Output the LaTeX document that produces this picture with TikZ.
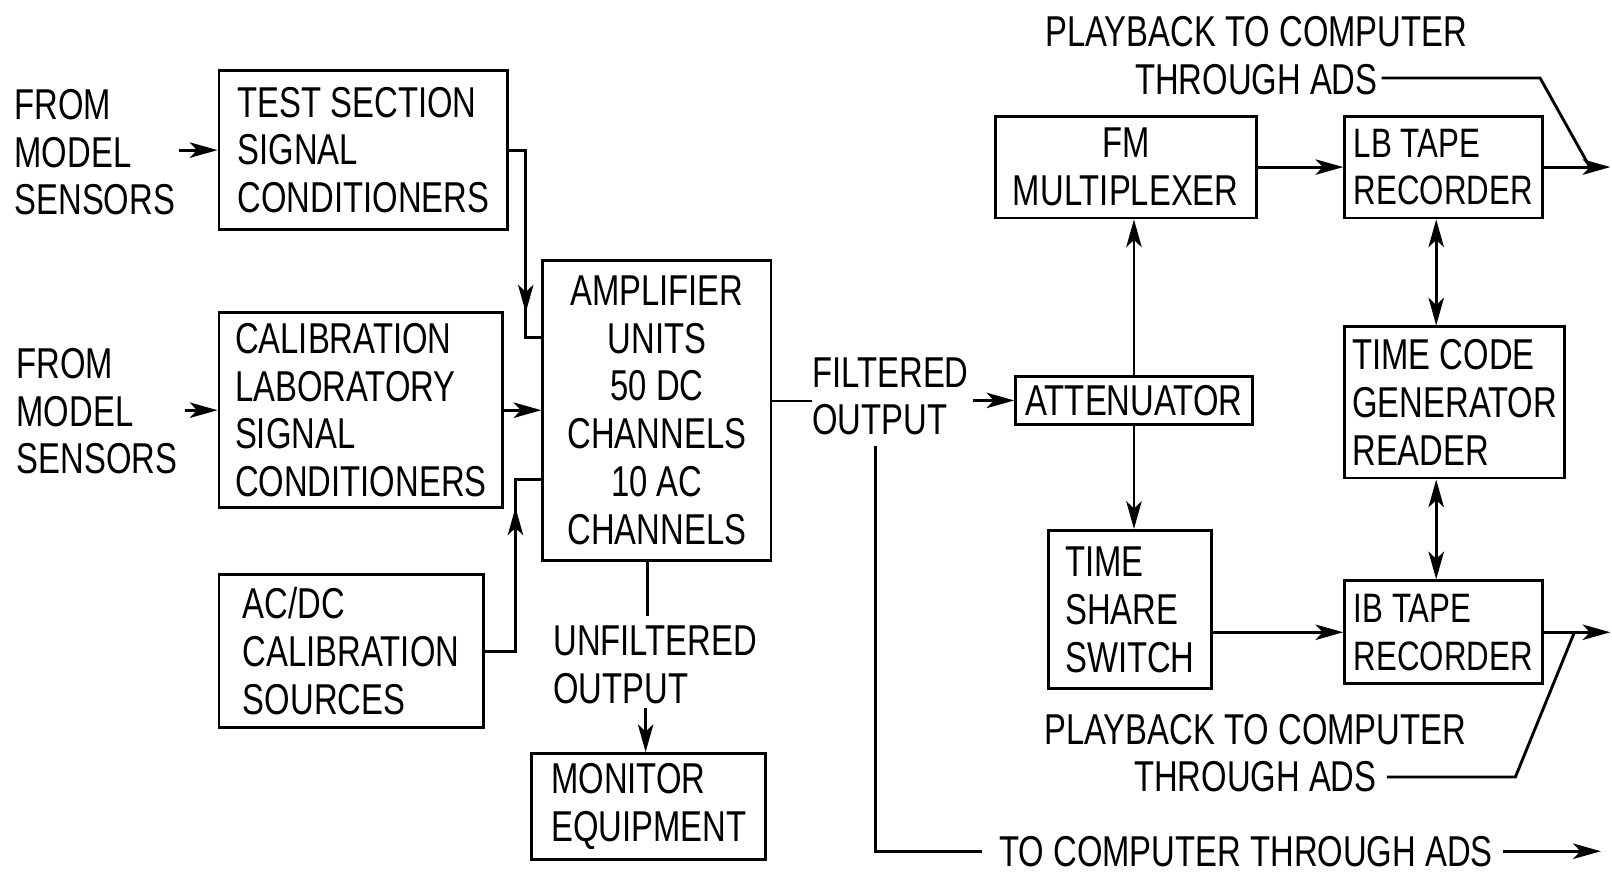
\documentclass[tikz,border=0pt]{standalone}
\usepackage{fontspec}
\setmainfont[FakeStretch=0.76]{Liberation Sans}
\usetikzlibrary{arrows.meta,calc}
\begin{document}
\begin{tikzpicture}[x=1pt,y=-1pt,
  every node/.style={font=\fontsize{42}{46.5}\selectfont, inner sep=0pt},
  box/.style={draw, line width=2.8pt, align=left},
  cbox/.style={draw, line width=2.8pt, align=center},
  lbl/.style={align=left},
  conn/.style={line width=2.8pt},
  arr/.style={conn, -{Stealth[length=27pt,width=15pt,inset=7pt]}},
  darr/.style={conn, {Stealth[length=27pt,width=15pt,inset=7pt]}-{Stealth[length=27pt,width=15pt,inset=7pt]}},
]
\useasboundingbox (0,0) rectangle (1568,849);

% left column
\node[lbl, anchor=west] (from1) at (14,148) {FROM\\MODEL\\SENSORS};
\node[box, minimum width=281pt, minimum height=154pt] (ts) at (353.5,146) {TEST SECTION\\SIGNAL\\CONDITIONERS};
\node[lbl, anchor=west] (from2) at (16,400) {FROM\\MODEL\\SENSORS};
\node[box, minimum width=276pt, minimum height=190pt] (cal) at (351,399) {CALIBRATION\\LABORATORY\\SIGNAL\\CONDITIONERS};
\node[box, minimum width=257pt, minimum height=149pt] (acdc) at (341.5,633.5) {AC/DC\\CALIBRATION\\SOURCES};
\node[cbox, minimum width=222pt, minimum height=292pt] (amp) at (639,399) {AMPLIFIER\\UNITS\\50 DC\\CHANNELS\\10 AC\\CHANNELS};
\node[lbl, anchor=west] (filt) at (790,385.5) {FILTERED\\OUTPUT};
\node[lbl, anchor=west] (unf) at (538,646.5) {UNFILTERED\\OUTPUT};
\node[box, minimum width=228pt, minimum height=103pt] (mon) at (631,784.5) {MONITOR\\EQUIPMENT};

% right side
\node[cbox, minimum width=254pt, minimum height=99pt] (fm) at (1095,162.5) {FM\\MULTIPLEXER};
\node[box, minimum width=192pt, minimum height=99pt, font=\fontsize{40}{46.5}\selectfont] (lb) at (1404,162.5) {LB TAPE\\RECORDER};
\node[box, minimum width=214pt, minimum height=147pt] (tc) at (1415,391.5) {TIME CODE\\GENERATOR\\READER};
\node[cbox, minimum width=230pt, minimum height=47pt] (att) at (1103,389.5) {ATTENUATOR};
\node[box, minimum width=158pt, minimum height=154pt] (tss) at (1099,593) {TIME\\SHARE\\SWITCH};
\node[box, minimum width=192pt, minimum height=100pt, font=\fontsize{40}{46.5}\selectfont] (ib) at (1404,615) {IB TAPE\\RECORDER};
\node[align=center] (pb1) at (1222,54.5) {PLAYBACK TO COMPUTER\\THROUGH ADS};
\node[align=center] (pb2) at (1221,732.5) {PLAYBACK TO COMPUTER\\THROUGH ADS};
\node (tocomp) at (1212,828) {TO COMPUTER THROUGH ADS};

% connectors, left
\draw[arr] ([xshift=4pt]from1.east |- ts.west) -- (ts.west);
\coordinate (c1) at ([xshift=16pt]ts.east);
\coordinate (a1) at ([yshift=71pt]amp.west);
\draw[conn] (ts.east) -- (c1) |- (a1);
\draw[arr] (c1) -- ++(0,158);
\draw[arr] ([xshift=7pt]from2.east |- cal.west) -- (cal.west);
\draw[arr] (cal.east) -- (cal.east -| amp.west);
\coordinate (c2) at ([xshift=30pt]acdc.east);
\coordinate (a3) at ([yshift=-67pt]amp.west);
\draw[conn] (acdc.east) -- (c2) |- (a3);
\draw[arr] (c2) -- ++(0,-140);
\coordinate (ao) at ([yshift=9pt]amp.east);
\draw[conn] (ao) -- (ao -| filt.west);
\coordinate (u0) at ([xshift=-9pt]amp.south);
\draw[conn] (u0) -- ++(0,53);
\draw[arr] ([xshift=-3pt,yshift=43pt]mon.north) -- ([xshift=-3pt]mon.north);

% connectors, middle and right
\draw[arr] ([xshift=-40pt]att.west) -- (att.west);
\draw[conn] ([xshift=-15pt,yshift=-10pt]filt.south) |- ([xshift=-17pt]tocomp.west);
\draw[arr] ([xshift=10pt]tocomp.east) -- ++(95,0);
\draw[arr] (att.north) -- (att.north |- fm.south);
\draw[arr] (att.south) -- (att.south |- tss.north);
\draw[arr] (fm.east) -- (lb.west);
\draw[arr] (lb.east) -- ++(65,0);
\draw[conn] ([xshift=122pt,yshift=17pt]pb1.south) -- ++(154,0) -- ([xshift=45pt]lb.east);
\draw[arr] (ib.west -| tss.east) -- (ib.west);
\draw[arr] (ib.east) -- ++(65,0);
\draw[conn] ([xshift=128pt,yshift=15pt]pb2.south) -- ++(125,0) -- ([xshift=30pt]ib.east);
\coordinate (l0) at ([xshift=-7pt]lb.south);
\draw[darr] (l0) -- (l0 |- tc.north);
\coordinate (i0) at ([xshift=-7pt]ib.north);
\draw[darr] (i0 |- tc.south) -- (i0);
\end{tikzpicture}
\end{document}
